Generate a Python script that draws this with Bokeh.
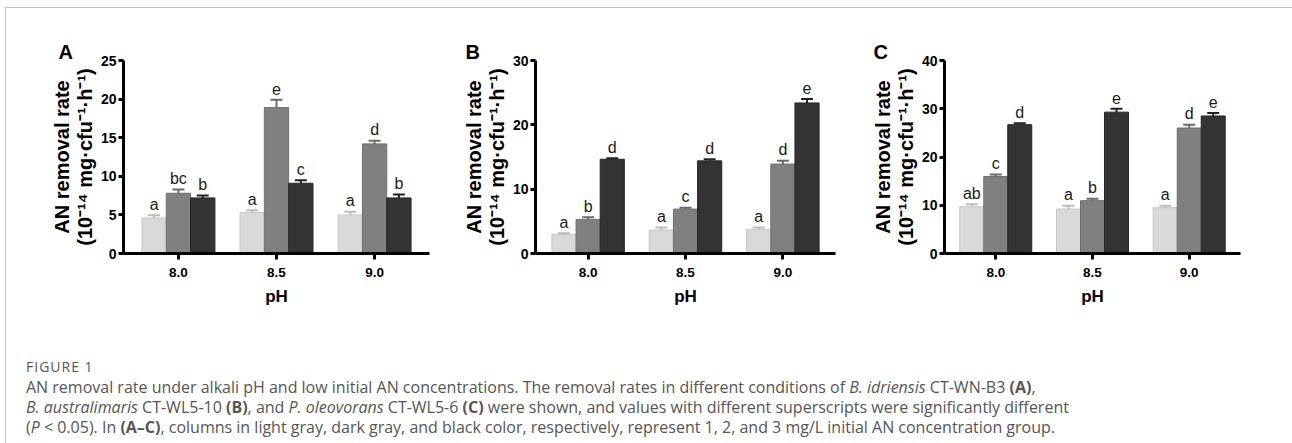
from bokeh.plotting import figure
from bokeh.models import ColumnDataSource, FactorRange, Range1d, SingleIntervalTicker, Whisker, TeeHead, Title, Div
from bokeh.transform import dodge
from bokeh.layouts import row, column
from bokeh.core.properties import value
from bokeh.embed import file_html
from bokeh.resources import INLINE

# ---------------- data ----------------
ph = ["8.0", "8.5", "9.0"]

# Panel A: B. idriensis CT-WN-B3
a_c1 = [4.6, 5.3, 5.0]
a_c1_err = [0.35, 0.3, 0.4]
a_c1_lab = ["a", "a", "a"]
a_c2 = [7.8, 18.9, 14.2]
a_c2_err = [0.5, 1.0, 0.4]
a_c2_lab = ["bc", "e", "d"]
a_c3 = [7.2, 9.1, 7.2]
a_c3_err = [0.3, 0.4, 0.45]
a_c3_lab = ["b", "c", "b"]

# Panel B: B. australimaris CT-WL5-10
b_c1 = [2.95, 3.65, 3.75]
b_c1_err = [0.2, 0.4, 0.3]
b_c1_lab = ["a", "a", "a"]
b_c2 = [5.3, 6.9, 13.9]
b_c2_err = [0.35, 0.2, 0.5]
b_c2_lab = ["b", "c", "d"]
b_c3 = [14.65, 14.4, 23.4]
b_c3_err = [0.15, 0.25, 0.6]
b_c3_lab = ["d", "d", "e"]

# Panel C: P. oleovorans CT-WL5-6
c_c1 = [9.7, 9.2, 9.5]
c_c1_err = [0.5, 0.7, 0.4]
c_c1_lab = ["ab", "a", "a"]
c_c2 = [15.95, 10.95, 26.0]
c_c2_err = [0.4, 0.4, 0.7]
c_c2_lab = ["c", "b", "d"]
c_c3 = [26.7, 29.3, 28.5]
c_c3_err = [0.3, 0.7, 0.6]
c_c3_lab = ["d", "e", "e"]

y_ticks_a = [0, 25, 5]
y_ticks_b = [0, 30, 10]
y_ticks_c = [0, 40, 10]

FILLS = ["#d9d9d9", "#808080", "#333333"]
EDGES = ["#c6c6c6", "#6e6e6e", "#262626"]
WHISK = ["#bcbcbc", "#6a6a6a", "#222222"]
OFFS = [-0.248, 0.0, 0.248]
FONT = "Liberation Sans"


def panel(letter, series, yt, width, bl, br, fw, fh, pad, letter_dx):
    p = figure(x_range=FactorRange(factors=ph, range_padding=pad),
               y_range=Range1d(yt[0], yt[1]),
               width=width, height=310,
               min_border_left=bl, min_border_right=br,
               min_border_top=52, min_border_bottom=310 - 52 - fh,
               output_backend="svg", toolbar_location=None)
    p.outline_line_color = None
    p.xgrid.grid_line_color = None
    p.ygrid.grid_line_color = None
    p.background_fill_color = "white"
    p.border_fill_color = "white"

    for i, (vals, errs, labs) in enumerate(series):
        src = ColumnDataSource(dict(ph=ph, top=vals, up=[v + e for v, e in zip(vals, errs)], lab=labs))
        xd = dodge("ph", OFFS[i], range=p.x_range)
        p.vbar(x=xd, top="top", bottom=0, width=0.248, source=src,
               fill_color=FILLS[i], line_color=EDGES[i], line_width=1)
        w = Whisker(base=xd, upper="up", lower="top", source=src,
                    line_color=WHISK[i], line_width=2,
                    upper_head=TeeHead(size=12, line_color=WHISK[i], line_width=2),
                    lower_head=None, level="glyph")
        p.add_layout(w)
        p.text(x=xd, y="up", text="lab", source=src, text_align="center",
               text_baseline="alphabetic", y_offset=-11,
               text_font=value(FONT), text_font_size="16px", text_color="#1a1a1a")

    ax = p.yaxis[0]
    ax.ticker = SingleIntervalTicker(interval=yt[2])
    ax.minor_tick_line_color = None
    ax.axis_line_width = 3
    ax.major_tick_line_width = 3
    ax.major_tick_out = 5
    ax.major_tick_in = 0
    ax.major_label_standoff = 2
    ax.major_label_text_font = FONT
    ax.major_label_text_font_style = "bold"
    ax.major_label_text_font_size = "14px"
    ax.major_label_text_color = "black"
    ax.axis_label = "AN removal rate\n(10\u207b\u00b9\u2074 mg\u00b7cfu\u207b\u00b9\u00b7h\u207b\u00b9)"
    ax.axis_label_text_font = FONT
    ax.axis_label_text_font_style = "bold"
    ax.axis_label_text_font_size = "20px"
    ax.axis_label_text_line_height = 1.05
    ax.axis_label_text_color = "black"
    ax.axis_label_standoff = 2

    bx = p.xaxis[0]
    bx.axis_line_width = 3
    bx.major_tick_line_width = 3
    bx.major_tick_out = 6
    bx.major_tick_in = 0
    bx.minor_tick_line_color = None
    bx.major_label_standoff = 8
    bx.major_label_text_font = FONT
    bx.major_label_text_font_style = "bold"
    bx.major_label_text_font_size = "13.5px"
    bx.major_label_text_color = "black"
    bx.axis_label = "pH"
    bx.axis_label_text_font = FONT
    bx.axis_label_text_font_style = "bold"
    bx.axis_label_text_font_size = "17px"
    bx.axis_label_text_color = "black"
    bx.axis_label_standoff = 7

    p.add_layout(Title(text=letter, align="left", offset=letter_dx, standoff=-4,
                       vertical_align="bottom", text_font=FONT, text_font_style="bold",
                       text_font_size="20px", text_color="black"), "above")
    return p


pA = panel("A", [(a_c1, a_c1_err, a_c1_lab), (a_c2, a_c2_err, a_c2_lab), (a_c3, a_c3_err, a_c3_lab)],
           y_ticks_a, 439, 117, 16, 306, 194, 0.04, -65)
pB = panel("B", [(b_c1, b_c1_err, b_c1_lab), (b_c2, b_c2_err, b_c2_lab), (b_c3, b_c3_err, b_c3_lab)],
           y_ticks_b, 405, 90, 15, 300, 193, 0.027, -70)
pC = panel("C", [(c_c1, c_c1_err, c_c1_lab), (c_c2, c_c2_err, c_c2_lab), (c_c3, c_c3_err, c_c3_lab)],
           y_ticks_c, 437, 94, 47, 296, 193, 0.02, -71)

cap_html = (
    '<div style="padding:34px 0 0 15px; font-family:\'Open Sans\'; font-size:16px; color:#555; '
    'white-space:nowrap; line-height:20px;">'
    '<div style="font-size:14px; letter-spacing:1px; color:#555;">FIGURE 1</div>'
    'AN removal rate under alkali pH and low initial AN concentrations. The removal rates in different conditions of '
    '<i>B. idriensis</i> CT-WN-B3 <b>(A)</b>,<br>'
    '<i>B. australimaris</i> CT-WL5-10 <b>(B)</b>, and <i>P. oleovorans</i> CT-WL5-6 <b>(C)</b> were shown, and values '
    'with different superscripts were significantly different<br>'
    '(<i>P</i> &lt; 0.05). In <b>(A&#8211;C)</b>, columns in light gray, dark gray, and black color, respectively, '
    'represent 1, 2, and 3 mg/L initial AN concentration group.'
    '</div>'
)
cap = Div(text=cap_html, width=1281, height=125)

layout = column(row(pA, pB, pC), cap, margin=(7, 0, 0, 5),
                styles={"border-top": "1px solid #c4c4c4", "border-left": "1px solid #c4c4c4",
                        "border-right": "1px solid #c4c4c4"})

open("out.html", "w").write(file_html(layout, INLINE))
